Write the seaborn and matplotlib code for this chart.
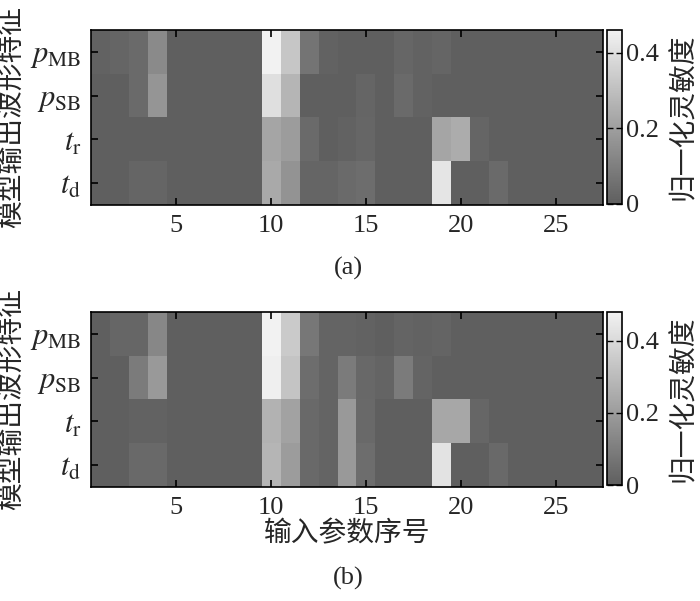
import numpy as np
import pandas as pd
import matplotlib
matplotlib.use("Agg")
import matplotlib.pyplot as plt
import seaborn as sns
from matplotlib.colors import LinearSegmentedColormap

# ---- data ----
features = [r"$p_{\mathrm{MB}}$", r"$p_{\mathrm{SB}}$", r"$t_{\mathrm{r}}$", r"$t_{\mathrm{d}}$"]
params = list(range(1, 28))
xticks_shown = [5, 10, 15, 20, 25]
cbar_ticks = [0, 0.2, 0.4]
cbar_ticklabels = ["0", "0.2", "0.4"]

# panel (a): normalized sensitivity, one list per output feature
a_pMB = [0.01, 0.02, 0.035, 0.135, 0, 0, 0, 0, 0, 0.46, 0.32, 0.065, 0.012, 0, 0, 0, 0.025, 0.01, 0.02, 0, 0, 0, 0, 0, 0, 0, 0]
a_pSB = [0, 0, 0.035, 0.17, 0, 0, 0, 0, 0, 0.40, 0.27, 0, 0, 0, 0.02, 0, 0.035, 0.01, 0, 0, 0, 0, 0, 0, 0, 0, 0]
a_tr = [0, 0, 0, 0, 0, 0, 0, 0, 0, 0.22, 0.19, 0.035, 0, 0.01, 0.025, 0, 0, 0, 0.22, 0.24, 0.02, 0, 0, 0, 0, 0, 0]
a_td = [0, 0, 0.02, 0.02, 0, 0, 0, 0, 0, 0.23, 0.165, 0.02, 0.02, 0.035, 0.045, 0, 0, 0, 0.42, 0, 0, 0.035, 0, 0, 0, 0, 0]

# panel (b)
b_pMB = [0, 0.025, 0.025, 0.13, 0, 0, 0, 0, 0, 0.48, 0.35, 0.08, 0.015, 0.015, 0.01, 0, 0.015, 0.01, 0.015, 0, 0, 0, 0, 0, 0, 0, 0]
b_pSB = [0, 0, 0.09, 0.19, 0, 0, 0, 0, 0, 0.47, 0.33, 0.045, 0.015, 0.09, 0.03, 0.015, 0.09, 0.015, 0, 0, 0, 0, 0, 0, 0, 0, 0]
b_tr = [0, 0, 0.01, 0.01, 0, 0, 0, 0, 0, 0.27, 0.22, 0.035, 0.015, 0.19, 0.035, 0, 0, 0, 0.235, 0.235, 0.025, 0, 0, 0, 0, 0, 0]
b_td = [0, 0, 0.035, 0.035, 0, 0, 0, 0, 0, 0.28, 0.20, 0.035, 0.015, 0.19, 0.045, 0, 0, 0, 0.43, 0, 0, 0.035, 0, 0, 0, 0, 0]

ylabel = "模型输出波形特征"
xlabel = "输入参数序号"
cbar_label = "归一化灵敏度"

# ---- style ----
sns.set_style("white")
plt.rcParams["font.family"] = ["Liberation Serif", "Noto Sans CJK SC"]
plt.rcParams["mathtext.fontset"] = "stix"
plt.rcParams["axes.unicode_minus"] = False
plt.rcParams["axes.axisbelow"] = False

cmap = LinearSegmentedColormap.from_list("mgray", ["#5f5f5f", "#f2f2f2"])

fig = plt.figure(figsize=(7.0, 6.01), dpi=100)

W, H = 700, 601


def box(x0, y0, x1, y1):
    return [x0 / W, 1 - y1 / H, (x1 - x0) / W, (y1 - y0) / H]


panels = [
    ([a_pMB, a_pSB, a_tr, a_td], box(91, 30, 603, 205), box(607, 30, 622, 204), "(a)", 268, False),
    ([b_pMB, b_pSB, b_tr, b_td], box(91, 312, 603, 487), box(607, 312, 622, 485), "(b)", 578, True),
]

for rows, ax_box, cb_box, tag, tag_y, show_xlabel in panels:
    df = pd.DataFrame(rows, index=features, columns=params)
    ax = fig.add_axes(ax_box)
    cax = fig.add_axes(cb_box)
    sns.heatmap(df, ax=ax, cbar_ax=cax, cmap=cmap, vmin=0, vmax=df.values.max(),
                xticklabels=False, yticklabels=False)
    ax.set_axisbelow(False)

    # axes frame and inward ticks on all sides
    for sp in ax.spines.values():
        sp.set_visible(True)
        sp.set_color("black")
        sp.set_linewidth(1.2)
        sp.set_zorder(5)
    ax.set_xticks([params.index(v) + 0.5 for v in xticks_shown])
    ax.set_xticklabels([str(v) for v in xticks_shown], fontsize=19)
    ax.set_yticks(np.arange(len(features)) + 0.5)
    ax.set_yticklabels(features, fontsize=22, rotation=0)
    ax.tick_params(axis="both", direction="in", length=5, width=1.2, color="black",
                   top=True, right=True, bottom=True, left=True, pad=7)
    ax.set_xlabel("")
    ax.set_ylabel(ylabel, fontsize=20, labelpad=4)
    if show_xlabel:
        ax.set_xlabel(xlabel, fontsize=20, labelpad=2)

    # colorbar
    cb = ax.collections[0].colorbar
    cb.outline.set_linewidth(1.2)
    cb.outline.set_edgecolor("black")
    cb.set_ticks(cbar_ticks)
    cb.set_ticklabels(cbar_ticklabels)
    cax.set_axisbelow(False)
    cax.tick_params(direction="in", length=4, width=1, color="black", labelsize=19, pad=3,
                    left=True, right=True)
    cb.set_label(cbar_label, fontsize=20, labelpad=8)

    fig.text(348 / W, 1 - tag_y / H, tag, fontsize=19, ha="center", va="center")

fig.savefig("out.png", dpi=100)
